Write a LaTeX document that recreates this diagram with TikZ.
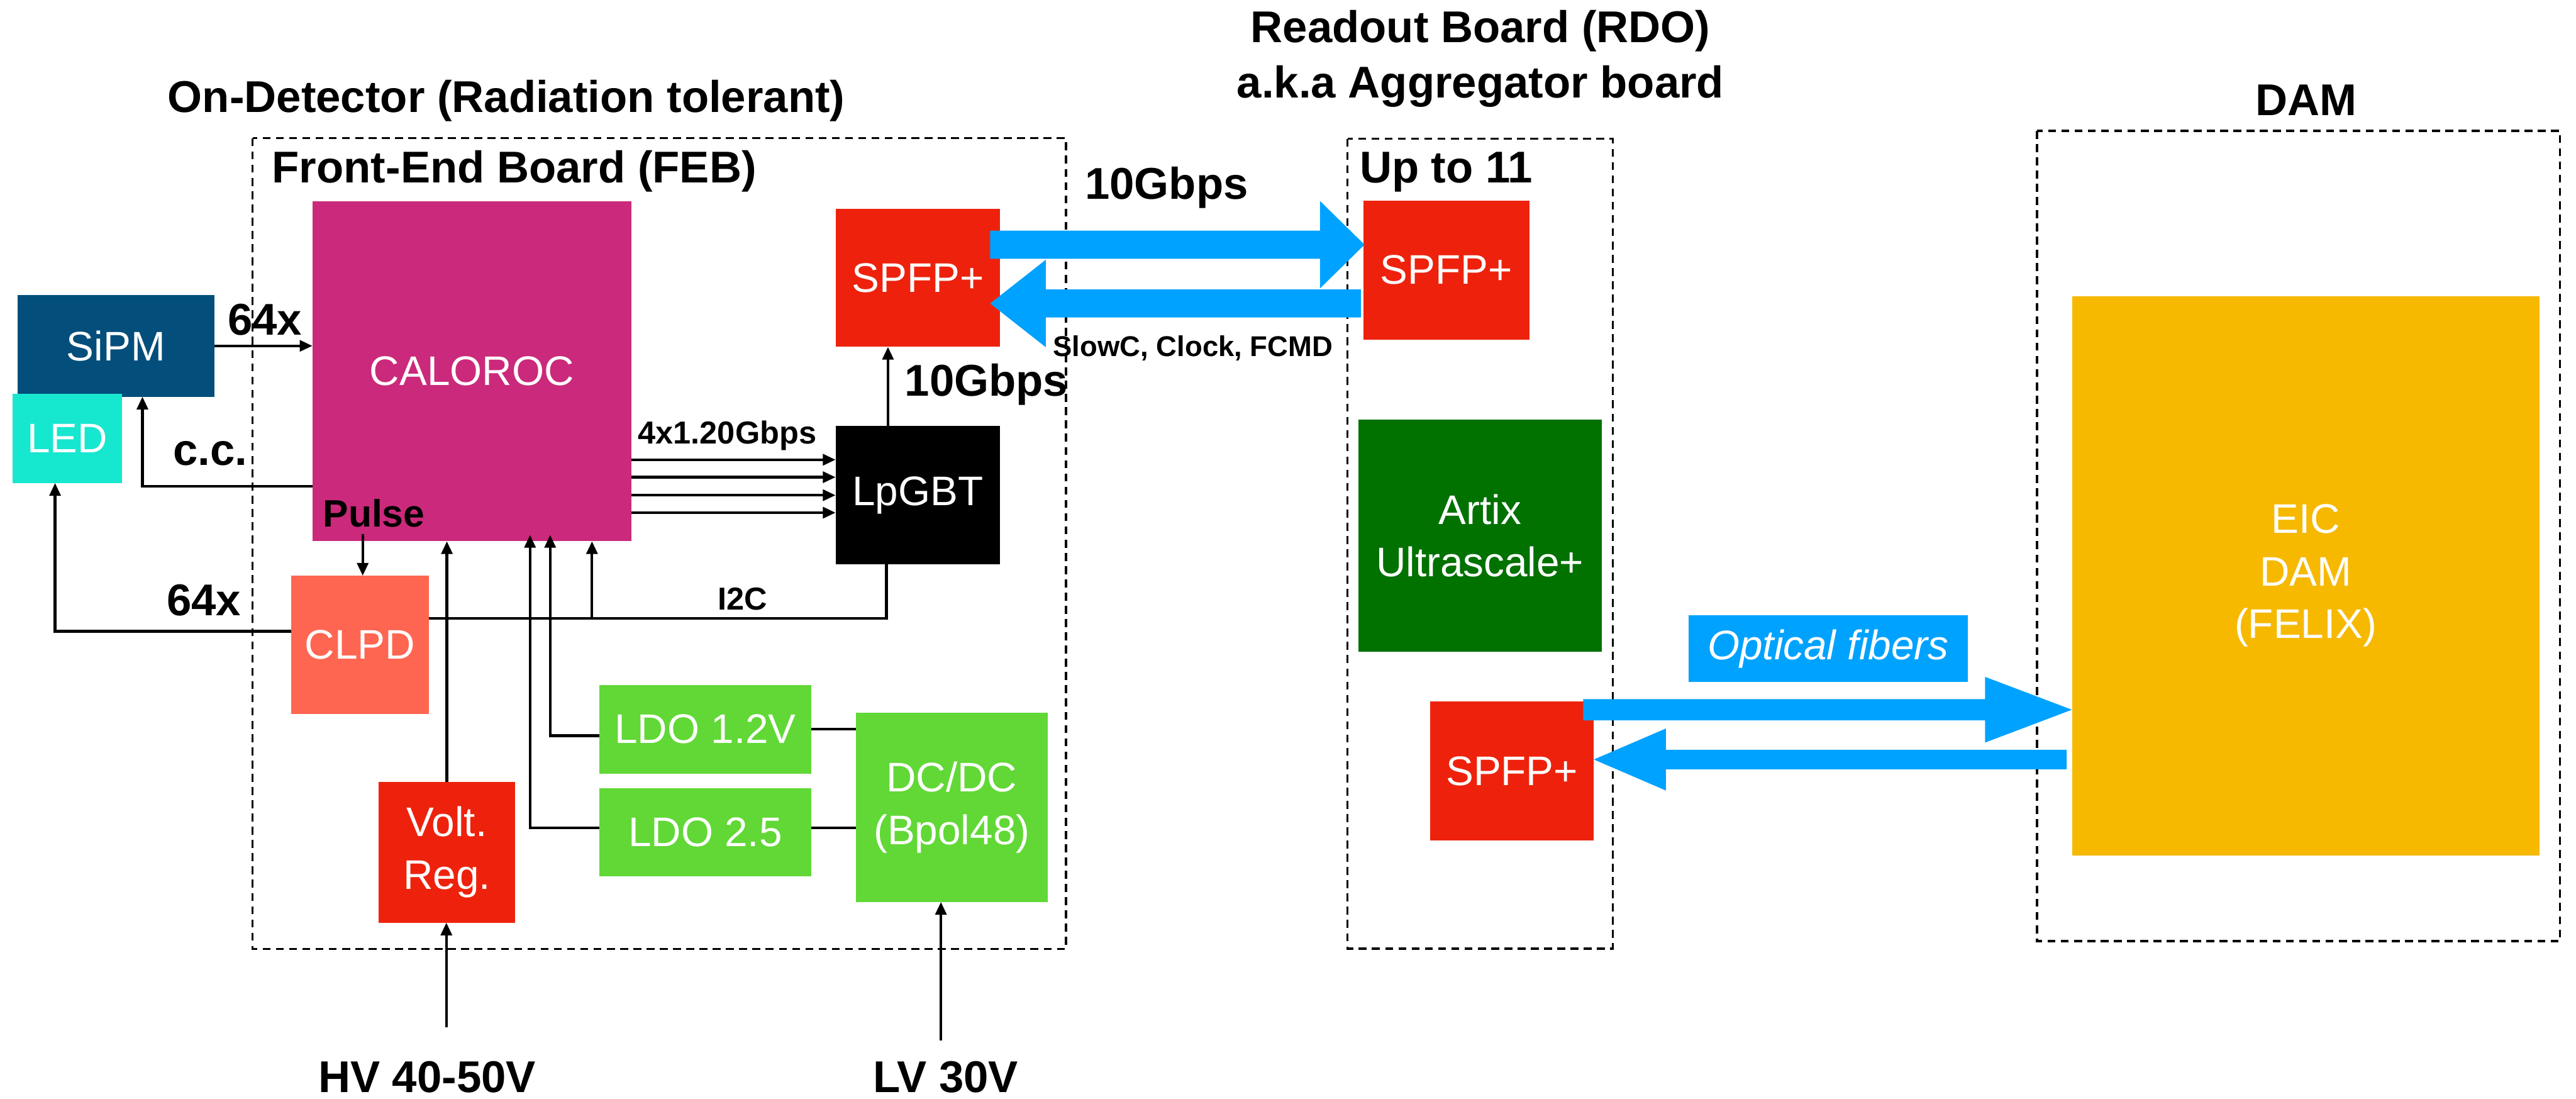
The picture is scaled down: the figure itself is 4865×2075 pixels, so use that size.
\documentclass[tikz,border=0pt]{standalone}
\usepackage{fontspec}
\setmainfont{Liberation Sans}
\usetikzlibrary{arrows.meta}
\definecolor{csipm}{HTML}{034E7B}
\definecolor{cled}{HTML}{16E7CF}
\definecolor{ccal}{HTML}{CB297B}
\definecolor{cclpd}{HTML}{FF6651}
\definecolor{cred}{HTML}{EE220C}
\definecolor{cgreen}{HTML}{61D836}
\definecolor{cdgreen}{HTML}{017100}
\definecolor{cyel}{HTML}{F6B900}
\definecolor{cblue}{HTML}{00A2FF}
\tikzset{
  blk/.style={inner sep=0pt, outer sep=0pt, text=white, align=center,
    font=\fontsize{15.6pt}{19.8pt}\selectfont},
  lbl/.style={inner sep=0pt, outer sep=0pt, anchor=base west,
    font=\bfseries\fontsize{16.8pt}{20pt}\selectfont},
  smlbl/.style={inner sep=0pt, outer sep=0pt, anchor=base west,
    font=\bfseries\fontsize{12pt}{14pt}\selectfont},
  conn/.style={line width=1pt},
  arr/.style={conn, -{Triangle[length=4.8pt,width=4.2pt]}},
  dbox/.style={draw, line width=0.8pt, dash pattern=on 3pt off 2pt},
}
\newcommand\blk[7]{\node[blk, fill=#6, minimum width={(#4-#2)*0.2pt}, minimum height={(#5-#3)*0.2pt}] (#1) at ({(#2+#4)/2},{(#3+#5)/2}) {#7};}
\newcommand\barrow[6]{\fill[cblue] ({#1},{#4-#5/2}) -- ({#2},{#4-#5/2}) -- ({#2},{#4-#6/2}) -- ({#3},{#4}) -- ({#2},{#4+#6/2}) -- ({#2},{#4+#5/2}) -- ({#1},{#4+#5/2}) -- cycle;}
\begin{document}
\begin{tikzpicture}[x=0.2pt,y=-0.2pt]
\useasboundingbox (0,0) rectangle (4865,2075);
% dashed containers
\draw[dbox] (477,261) rectangle (2013,1792);
\draw[dbox] (2545,262) rectangle (3046,1791);
\draw[dbox] (3847,247) rectangle (4835,1777);
% titles
\node[lbl] (t1) at (317,212) {On-Detector (Radiation tolerant)};
\node[lbl] (t2) at (514,345) {Front-End Board (FEB)};
\node[lbl, anchor=base] (t3) at (2796,80) {Readout Board (RDO)};
\node[lbl, anchor=base] (t4) at (2796,185) {a.k.a Aggregator board};
\node[lbl, anchor=base] (t5) at (4355,218) {DAM};
\node[lbl] (t6) at (2568,345) {Up to 11};
% blocks
\blk{sipm}{33}{557}{405}{749}{csipm}{SiPM}
\blk{led}{24}{743}{231}{912}{cled}{LED}
\blk{caloroc}{590}{380}{1192}{1022}{ccal}{CALOROC}
\blk{clpd}{550}{1087}{810}{1348}{cclpd}{CLPD}
\blk{volt}{715}{1476}{973}{1742}{cred}{Volt.\\Reg.}
\blk{ldoa}{1132}{1293}{1532}{1461}{cgreen}{LDO 1.2V}
\blk{ldob}{1132}{1488}{1532}{1655}{cgreen}{LDO 2.5}
\blk{dcdc}{1616}{1346}{1979}{1703}{cgreen}{DC/DC\\(Bpol48)}
\blk{spfpa}{1578}{394}{1889}{655}{cred}{SPFP+}
\blk{lpgbt}{1578}{804}{1889}{1066}{black}{LpGBT}
\blk{spfpb}{2575}{379}{2888}{641}{cred}{SPFP+}
\blk{artix}{2565}{792}{3025}{1231}{cdgreen}{Artix\\Ultrascale+}
\blk{spfpc}{2701}{1324}{3010}{1587}{cred}{SPFP+}
\blk{eic}{3913}{559}{4796}{1615}{cyel}{EIC\\DAM\\(FELIX)}
\blk{optf}{3189}{1162}{3716}{1288}{cblue}{\itshape Optical fibers}
% connectors
\draw[arr] (sipm.east) -- (sipm.east -| caloroc.west);
\draw[arr] (caloroc.west |- 0,918) -| (sipm.south -| 269,0);
\coordinate (pulseout) at (685,1008);
\draw[arr] (pulseout) -- (clpd.north -| pulseout);
\draw[arr] (clpd.west |- 0,1192) -| (led.south -| 104,0);
\draw[conn] (lpgbt.south -| 1674,0) |- (clpd.east |- 0,1168);
\draw[arr] (1118,1168) -- (caloroc.south -| 1118,0);
\draw[arr] (volt.north) -- (caloroc.south -| volt.north);
\draw[arr] (ldob.west |- 0,1563) -| (1001,1010);
\draw[arr] (ldoa.west |- 0,1389) -| (1039,1010);
\draw[conn] (ldoa.east |- 0,1377) -- (dcdc.west |- 0,1377);
\draw[conn] (ldob.east |- 0,1563) -- (dcdc.west |- 0,1563);
\coordinate (hvin) at (843,1940);
\draw[arr] (hvin) -- (volt.south -| hvin);
\coordinate (lvin) at (1777,1964);
\draw[arr] (lvin) -- (dcdc.south -| lvin);
\foreach \yy in {868,901,935,968}
  \draw[arr] (caloroc.east |- 0,\yy) -- (lpgbt.west |- 0,\yy);
\draw[arr] (lpgbt.north -| 1677,0) -- (spfpa.south -| 1677,0);
% big blue arrows
\barrow{1870}{2493}{2577}{462}{53}{165}
\barrow{2570}{1975}{1870}{573}{53}{165}
\barrow{2990}{3749}{3913}{1340}{40}{124}
\barrow{3903}{3146}{3010}{1434}{37}{117}
% labels
\node[lbl] (l64a) at (430,632) {64x};
\node[lbl] (lcc) at (327,878) {c.c.};
\node[lbl, font=\bfseries\fontsize{14.4pt}{16pt}\selectfont] (lpulse) at (610,995) {Pulse};
\node[lbl] (l64b) at (315,1162) {64x};
\node[smlbl] (li2c) at (1356,1151) {I2C};
\node[smlbl] (l4x) at (1205,838) {4x1.20Gbps};
\node[lbl] (l10a) at (2049,376) {10Gbps};
\node[lbl] (l10b) at (1709,748) {10Gbps};
\node[smlbl, font=\bfseries\fontsize{10.8pt}{12pt}\selectfont] (lslow) at (1989,673) {SlowC, Clock, FCMD};
\node[lbl] (lhv) at (601,2062) {HV 40-50V};
\node[lbl] (llv) at (1649,2062) {LV 30V};
\end{tikzpicture}
\end{document}
